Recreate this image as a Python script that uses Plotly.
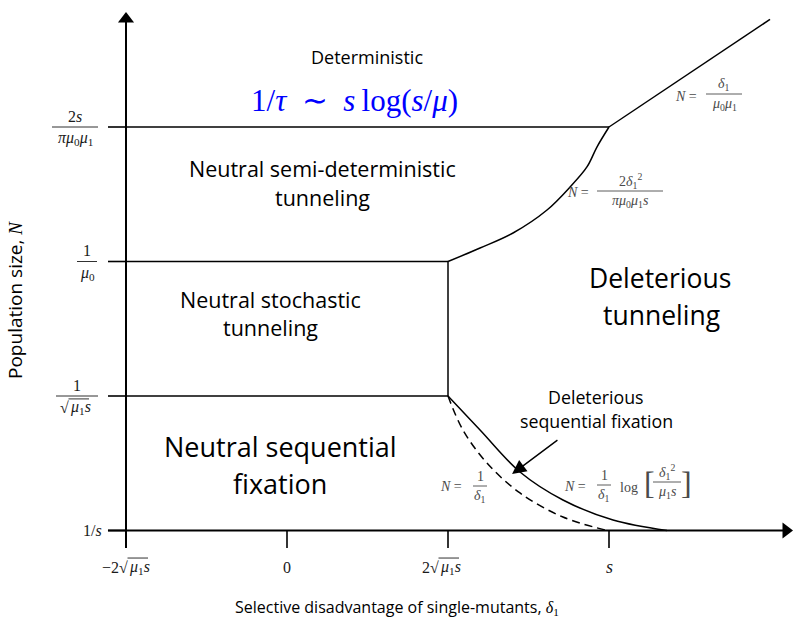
import plotly.graph_objects as go

# ---------------------------------------------------------------------------
# Schematic phase diagram: time-to-tunnel regimes vs. population size N and
# selective disadvantage of single mutants delta_1.
# Axis units are schematic: x ticks at -2*sqrt(mu1 s), 0, 2*sqrt(mu1 s), s;
# y ticks at 1/s, 1/sqrt(mu1 s), 1/mu0, 2s/(pi mu0 mu1).
# ---------------------------------------------------------------------------

W, H = 796, 618
PX_PER_X, X_ORIGIN_PX = 161.0, 287.0
PX_PER_Y, Y_ORIGIN_PX = 134.5, 530.5


def X(px):
    return (px - X_ORIGIN_PX) / PX_PER_X


def Y(py):
    return (Y_ORIGIN_PX - py) / PX_PER_Y


def PX(x):
    return X_ORIGIN_PX + x * PX_PER_X


def PY(y):
    return Y_ORIGIN_PX - y * PX_PER_Y


SERIF = "Liberation Serif"
SANS = "Open Sans"
GRAY = "#4a4a4a"
INK = "#1a1a1a"

RAD = "<i>μ</i><sub>1</sub><i>s</i>"   # radicand mu_1 s

# ticks
x_ticks = [-1, 0, 1, 2]
x_tick_prefix = ["−2", "0", "2", "<i>s</i>"]
x_tick_radicand = [RAD, None, RAD, None]
y_ticks = [0, 1, 2, 3]
y_tick_num = [None, "1", "1", "2<i>s</i>"]
y_tick_den = ["1/<i>s</i>", None,
              "<i>μ</i><sub>0</sub>",
              "<i>πμ</i><sub>0</sub><i>μ</i><sub>1</sub>"]
y_tick_den_radicand = [None, RAD, None, None]

# region boundaries
det_low_x, det_low_y = [-1, 2], [3, 3]
det_right_x, det_right_y = [2, 3.0], [3, 3.80]
semi_x = [1, 1.199, 1.404, 1.615, 1.758, 1.863, 1.925, 2.0]
semi_y = [2, 2.100, 2.212, 2.383, 2.554, 2.703, 2.851, 3.0]
mu0_x, mu0_y = [-1, 1], [2, 2]
sqrt_x, sqrt_y = [-1, 1], [1, 1]
stoch_x, stoch_y = [1, 1], [1, 2]
del_seq_x = [1, 1.199, 1.447, 1.714, 2.025, 2.36]
del_seq_y = [1, 0.747, 0.435, 0.227, 0.078, 0.0]
inv_delta_x = [1, 1.093, 1.242, 1.447, 1.714, 1.99]
inv_delta_y = [1, 0.747, 0.502, 0.279, 0.100, 0.0]

# axes extents
y_axis_x, y_axis_y = [-1, -1], [-0.13, 3.83]
x_axis_x, x_axis_y = [-1.112, 3.10], [0, 0]

fig = go.Figure()


def line(xs, ys, width=1.5, dash=None, color="black", shape="linear"):
    fig.add_trace(go.Scatter(
        x=xs, y=ys, mode="lines",
        line=dict(color=color, width=width, dash=dash, shape=shape),
        hoverinfo="skip", cliponaxis=False))


# axes with arrowheads
line(y_axis_x, y_axis_y, width=2)
line(x_axis_x, x_axis_y, width=2)
fig.add_trace(go.Scatter(x=[-1], y=[Y(19)], mode="markers",
                         marker=dict(symbol="triangle-up", size=14, color="black"),
                         cliponaxis=False, hoverinfo="skip"))
fig.add_trace(go.Scatter(x=[X(786)], y=[0], mode="markers",
                         marker=dict(symbol="triangle-right", size=14, color="black"),
                         cliponaxis=False, hoverinfo="skip"))

# tick marks
for yt in y_ticks:
    line([-1.112, -1], [yt, yt], width=1.6)
for xt in x_ticks:
    line([xt, xt], [0, -0.13], width=1.6)

# boundaries
line(det_low_x, det_low_y)
line(det_right_x, det_right_y)
line(semi_x, semi_y, shape="spline")
line(mu0_x, mu0_y)
line(sqrt_x, sqrt_y)
line(stoch_x, stoch_y)
line(del_seq_x, del_seq_y, shape="spline")
line(inv_delta_x, inv_delta_y, dash="8px,5px", shape="spline")

annotations = []
shapes = []


def text(px, py, s, size, family=SANS, color="black", xanchor="center", **kw):
    annotations.append(dict(
        x=X(px), y=Y(py), xref="x", yref="y", text=s, showarrow=False,
        font=dict(family=family, size=size, color=color), borderpad=0,
        xanchor=xanchor, yanchor="middle", **kw))


def hbar(x0px, x1px, ypx, color, width=0.9):
    shapes.append(dict(type="line", xref="x", yref="y",
                       x0=X(x0px), x1=X(x1px), y0=Y(ypx), y1=Y(ypx),
                       line=dict(color=color, width=width)))


def sqrt_expr(split_px, cy, prefix, radicand, size, color, rad_w):
    """prefix + radical sign ending at split_px, radicand with vinculum after it."""
    text(split_px + 0.5, cy, prefix + "√", size, SERIF, color, xanchor="right")
    text(split_px, cy, radicand, size, SERIF, color, xanchor="left")
    hbar(split_px - 0.5, split_px + rad_w, cy - size * 0.56, color, 0.9)


def frac(cx, cy, num, den, size, width, color=GRAY):
    off = size * 0.68
    text(cx, cy - off, num, size, SERIF, color)
    text(cx, cy + off + 1, den, size, SERIF, color)
    hbar(cx - width / 2, cx + width / 2, cy, color)


# x tick labels
TICK_FS = 16
X_LAB_PY = 567
for xt, pre, rad in zip(x_ticks, x_tick_prefix, x_tick_radicand):
    if rad is None:
        annotations.append(dict(
            x=xt, y=Y(X_LAB_PY), xref="x", yref="y", text=pre, showarrow=False,
            font=dict(family=SERIF, size=18 if "<i>" in pre else TICK_FS, color=INK),
            xanchor="center", yanchor="middle"))
    else:
        split = PX(xt) + (2 if pre.startswith("−") else -9)
        sqrt_expr(split, X_LAB_PY, pre, rad, TICK_FS, INK, 20)

# y tick labels
tick_frac_geom = {1: (77, 42), 2: (87, 20), 3: (75, 46)}
for yt, num, den, rad in zip(y_ticks, y_tick_num, y_tick_den, y_tick_den_radicand):
    cy = PY(yt)
    if num is None:
        text(103, cy, den, TICK_FS, SERIF, INK, xanchor="right")
        continue
    cx, w = tick_frac_geom[yt]
    off = TICK_FS * 0.68
    text(cx, cy - off, num, TICK_FS, SERIF, INK)
    if rad is None:
        text(cx, cy + off + 1, den, TICK_FS, SERIF, INK)
    else:
        sqrt_expr(cx - 8, cy + off + 1, "", rad, TICK_FS, INK, 20)
    hbar(cx - w / 2, cx + w / 2, cy, INK)

# region labels
text(367, 57, "Deterministic", 18)
text(354, 100, "1/<i>τ</i>\u2002∼\u2002<i>s</i>\u2009log(<i>s</i>/<i>μ</i>)",
     31, SERIF, "#0000ff")
text(322, 168, "Neutral semi-deterministic", 21.5)
text(322, 197, "tunneling", 21.5)
text(270, 299, "Neutral stochastic", 21.5)
text(270, 327, "tunneling", 21.5)
text(660, 278, "Deleterious", 26.5)
text(661, 315, "tunneling", 26.5)
text(280, 446, "Neutral sequential", 27)
text(280, 483, "fixation", 27)
text(596, 397, "Deleterious", 17.8)
text(596, 421, "sequential fixation", 17.8)

# boundary formulas
LF = 14
text(686, 96, "<i>N</i> =", LF, SERIF, GRAY)
frac(724, 94, "<i>δ</i><sub>1</sub>", "<i>μ</i><sub>0</sub><i>μ</i><sub>1</sub>", LF, 36)
text(578, 192, "<i>N</i> =", LF, SERIF, GRAY)
frac(630, 191, "2<i>δ</i><sub>1</sub><sup>2</sup>",
     "<i>πμ</i><sub>0</sub><i>μ</i><sub>1</sub><i>s</i>", LF, 66)
text(451, 486, "<i>N</i> =", LF, SERIF, GRAY)
frac(480, 486, "1", "<i>δ</i><sub>1</sub>", LF, 14)
text(575, 486, "<i>N</i> =", LF, SERIF, GRAY)
frac(604, 485, "1", "<i>δ</i><sub>1</sub>", LF, 14)
text(629, 487, "log", LF, SERIF, GRAY)
text(649, 483, "[", 32, SERIF, GRAY)
frac(667, 482, "<i>δ</i><sub>1</sub><sup>2</sup>", "<i>μ</i><sub>1</sub><i>s</i>", LF, 28)
text(686, 483, "]", 32, SERIF, GRAY)

# pointer to the deleterious sequential fixation band
annotations.append(dict(
    x=1.398, y=0.420, ax=1.689, ay=0.680, xref="x", yref="y",
    axref="x", ayref="y", text="", showarrow=True,
    arrowhead=2, arrowsize=2.0, arrowwidth=1.4, arrowcolor="black"))

# axis titles
text(397, 607, "Selective disadvantage of single-mutants, "
     "<span style='font-family:Liberation Serif'><i>δ</i><sub>1</sub></span>", 16)
annotations.append(dict(
    x=X(15), y=Y(300), xref="x", yref="y",
    text="Population size, <span style='font-family:Liberation Serif'><i>N</i></span>",
    showarrow=False, textangle=-90,
    font=dict(family=SANS, size=19, color="black"),
    xanchor="center", yanchor="middle"))

fig.update_layout(
    width=W, height=H,
    margin=dict(l=0, r=0, t=0, b=0),
    paper_bgcolor="white", plot_bgcolor="white",
    showlegend=False,
    xaxis=dict(range=[X(0), X(W)], visible=False, fixedrange=True),
    yaxis=dict(range=[Y(H), Y(0)], visible=False, fixedrange=True),
    annotations=annotations,
    shapes=shapes,
)

fig.write_html("out.html")
